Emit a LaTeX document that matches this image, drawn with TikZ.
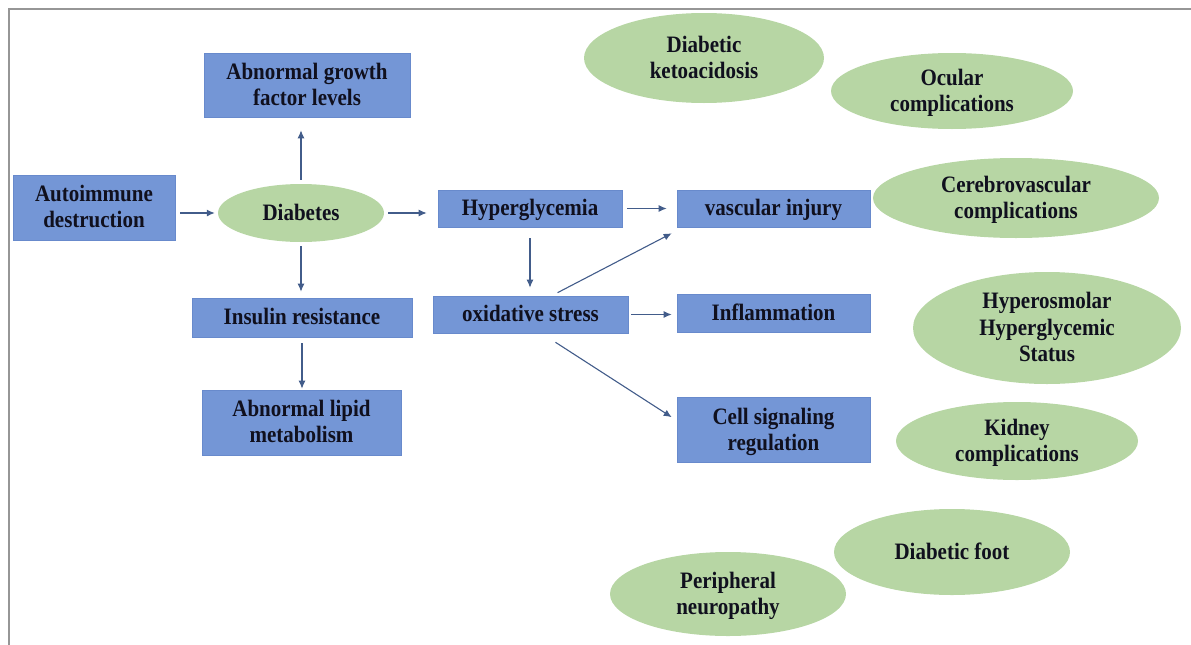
\documentclass[tikz,border=0pt]{standalone}
\usepackage{graphicx}
\usepackage{fontspec}
\setmainfont{Liberation Serif}
\usetikzlibrary{shapes.geometric,arrows.meta,calc}
\definecolor{boxblue}{RGB}{116,150,214}
\definecolor{boxedge}{RGB}{104,138,204}
\definecolor{ellgreen}{RGB}{183,214,164}
\definecolor{arrcol}{RGB}{66,92,138}
\definecolor{txtcol}{RGB}{16,16,30}
\definecolor{framecol}{RGB}{150,150,150}
\newcommand\tx[1]{\raisebox{-2pt}[\height][\depth]{\scalebox{1}[1.12]{\begin{tabular}{@{}c@{}}#1\end{tabular}}}}
\begin{document}
\begin{tikzpicture}[x=1pt,y=-1pt,
  every node/.style={font=\fontsize{21}{23.5}\selectfont\bfseries, text=txtcol, align=center, inner sep=0pt},
  bluebox/.style={rectangle, fill=boxblue, draw=boxedge, line width=0.6pt},
  greenell/.style={ellipse, fill=ellgreen},
  arr/.style={draw=arrcol, line width=1.1pt, -{Latex[length=8pt,width=7pt]}}
]
\useasboundingbox (0,0) rectangle (1191,645);
\draw[framecol, line width=1.5pt] (9,645) -- (9,9) -- (1191,9);

% boxes
\node[bluebox, minimum width=162pt, minimum height=65pt] (auto) at (94,207.5) {\tx{Autoimmune\\destruction}};
\node[bluebox, minimum width=206pt, minimum height=64pt] (growth) at (307,85) {\tx{Abnormal growth\\factor levels}};
\node[bluebox, minimum width=184pt, minimum height=37pt] (hyper) at (530,208.5) {\tx{Hyperglycemia}};
\node[bluebox, minimum width=193pt, minimum height=37pt] (vasc) at (773.5,208.5) {\tx{vascular injury}};
\node[bluebox, minimum width=195pt, minimum height=37pt] (oxi) at (530.5,314.5) {\tx{oxidative stress}};
\node[bluebox, minimum width=193pt, minimum height=38pt] (infl) at (773.5,313) {\tx{Inflammation}};
\node[bluebox, minimum width=220pt, minimum height=39pt] (ins) at (302,317.5) {\tx{Insulin resistance}};
\node[bluebox, minimum width=199pt, minimum height=65pt] (lipid) at (301.5,422.5) {\tx{Abnormal lipid\\metabolism}};
\node[bluebox, minimum width=193pt, minimum height=65pt] (cell) at (773.5,430) {\tx{Cell signaling\\regulation}};

% ellipses
\node[greenell, minimum width=166pt, minimum height=58pt] (diab) at (301,213) {\tx{Diabetes}};
\node[greenell, minimum width=240pt, minimum height=90pt] (keto) at (704,58) {\tx{Diabetic\\ketoacidosis}};
\node[greenell, minimum width=242pt, minimum height=76pt] (ocular) at (952,91) {\tx{Ocular\\complications}};
\node[greenell, minimum width=286pt, minimum height=80pt] (cerebro) at (1016,198) {\tx{Cerebrovascular\\complications}};
\node[greenell, minimum width=268pt, minimum height=112pt] (hyperos) at (1047,328) {\tx{Hyperosmolar\\Hyperglycemic\\Status}};
\node[greenell, minimum width=242pt, minimum height=78pt] (kidney) at (1017,441) {\tx{Kidney\\complications}};
\node[greenell, minimum width=236pt, minimum height=86pt] (foot) at (952,552) {\tx{Diabetic foot}};
\node[greenell, minimum width=236pt, minimum height=84pt] (periph) at (728,594) {\tx{Peripheral\\neuropathy}};

% connectors
\draw[arr, shorten <=5pt, shorten >=3pt] (auto.east |- diab.west) -- (diab.west);
\draw[arr, shorten <=4pt, shorten >=13pt] (diab.north) -- (diab.north |- growth.south);
\draw[arr, shorten <=4pt, shorten >=11pt] (diab.east) -- (diab.east -| hyper.west);
\draw[arr, shorten <=5pt, shorten >=10pt] (hyper.east) -- (vasc.west);
\draw[arr, shorten <=11pt, shorten >=8pt] (hyper.south) -- (hyper.south |- oxi.north);
\draw[arr] ([xshift=27pt,yshift=3pt]oxi.north) -- ([xshift=-5pt,yshift=-6pt]vasc.south west);
\draw[arr, shorten <=3pt, shorten >=5pt] (oxi.east) -- (oxi.east -| infl.west);
\draw[arr] ([xshift=25pt,yshift=-9pt]oxi.south) -- ([xshift=-5pt,yshift=-20pt]cell.north west);
\draw[arr, shorten <=4pt, shorten >=6pt] (diab.south) -- (diab.south |- ins.north);
\draw[arr, shorten <=6pt, shorten >=1pt] (ins.south) -- (ins.south |- lipid.north);
\end{tikzpicture}
\end{document}
